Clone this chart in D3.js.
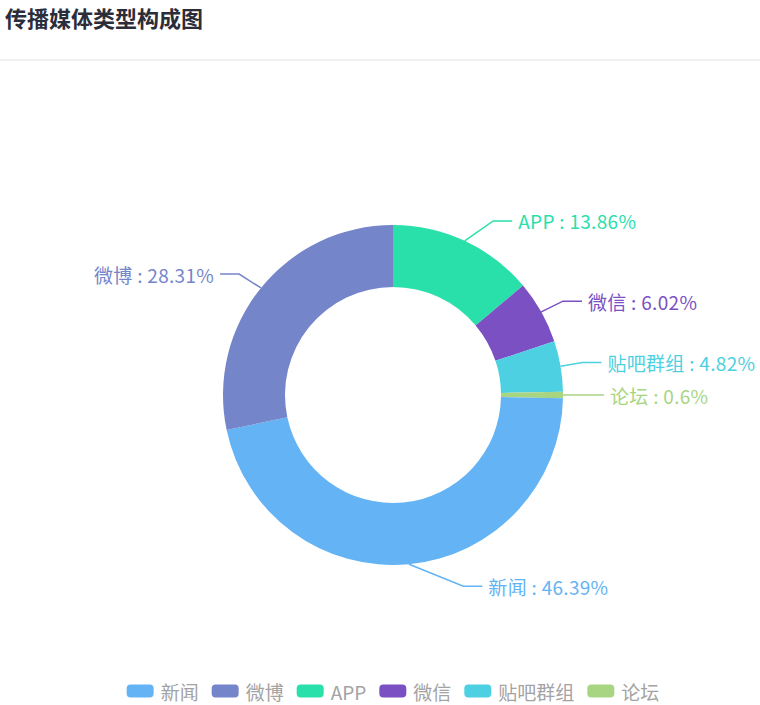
<!DOCTYPE html>
<html>
<head>
<meta charset="utf-8">
<script src="https://cdn.jsdelivr.net/npm/d3@7"></script>
<style>
  html, body { margin: 0; padding: 0; background: #fff; }
  svg { display: block; font-family: "Noto Sans CJK SC", "Noto Sans", sans-serif; }
</style>
</head>
<body>
<svg id="chart" width="760" height="705"></svg>
<script>
// ---- data ----
const title = "传播媒体类型构成图";
// drawing order (clockwise from 12 o'clock)
const categories = ["APP", "微信", "贴吧群组", "论坛", "新闻", "微博"];
const values = [13.86, 6.02, 4.82, 0.6, 46.39, 28.31];
const legendOrder = ["新闻", "微博", "APP", "微信", "贴吧群组", "论坛"];
const colorList = ["#2ae0aa", "#7b50c3", "#4dd0e1", "#a8d582", "#63b3f5", "#7585c9"];

// ---- layout ----
const W = 760, H = 705;
const cx = 393, cy = 395;
const rInner = 108, rOuter = 170;
const len1 = 22, len2 = 19;

const svg = d3.select("#chart");

// title
svg.append("text")
  .attr("x", 5).attr("y", 27)
  .attr("font-size", 22).attr("font-weight", 700)
  .attr("fill", "#2b2d3a")
  .text(title);
svg.append("line")
  .attr("x1", 0).attr("x2", W).attr("y1", 60).attr("y2", 60)
  .attr("stroke", "#ececec").attr("stroke-width", 1.5);

const color = d3.scaleOrdinal().domain(categories).range(colorList);
const dataset = categories.map((c, i) => ({ name: c, value: values[i] }));
const total = d3.sum(values);

const pie = d3.pie().value(d => d.value).sort(null);
const arcs = pie(dataset);
const arcGen = d3.arc().innerRadius(rInner).outerRadius(rOuter);

const g = svg.append("g").attr("transform", `translate(${cx},${cy})`);
g.selectAll("path.slice").data(arcs).join("path")
  .attr("class", "slice")
  .attr("d", arcGen)
  .attr("fill", d => color(d.data.name));

// labels
const R2 = rOuter + len1 + len2;
arcs.forEach(a => {
  const mid = (a.startAngle + a.endAngle) / 2;
  const s = Math.sin(mid), c = Math.cos(mid);
  const dir = s >= 0 ? 1 : -1;
  const p0 = [rOuter * s, -rOuter * c];
  const y = -(rOuter + len1) * c;
  const dx = Math.sqrt(Math.max(0, R2 * R2 - y * y));
  const endX = dir * dx;
  const elbow = [endX - dir * len2, y];
  const col = color(a.data.name);
  g.append("path")
    .attr("d", d3.line()([p0, elbow, [endX, y]]))
    .attr("fill", "none").attr("stroke", col).attr("stroke-width", 1.5);
  const pct = (a.data.value / total * 100);
  const pctTxt = +pct.toFixed(2);
  g.append("text")
    .attr("x", endX + dir * 6).attr("y", y)
    .attr("dominant-baseline", "central")
    .attr("text-anchor", dir > 0 ? "start" : "end")
    .attr("font-size", 19)
    .attr("letter-spacing", 0.3)
    .attr("fill", col)
    .text(`${a.data.name} : ${pctTxt}%`);
});

// legend
const legend = svg.append("g");
let x = 0;
const sw = 27, sh = 13, gapT = 7, gapItem = 13;
legendOrder.forEach(name => {
  const item = legend.append("g").attr("transform", `translate(${x},0)`);
  item.append("rect").attr("x", 0).attr("y", -sh / 2).attr("width", sw).attr("height", sh)
    .attr("rx", 4).attr("fill", color(name));
  const t = item.append("text").attr("x", sw + gapT).attr("y", 0)
    .attr("dominant-baseline", "central")
    .attr("font-size", 19).attr("fill", "#a3a3a3").text(name);
  x += sw + gapT + t.node().getComputedTextLength() + gapItem;
});
const legW = x - gapItem;
legend.attr("transform", `translate(${cx - legW / 2},691)`);
</script>
</body>
</html>
